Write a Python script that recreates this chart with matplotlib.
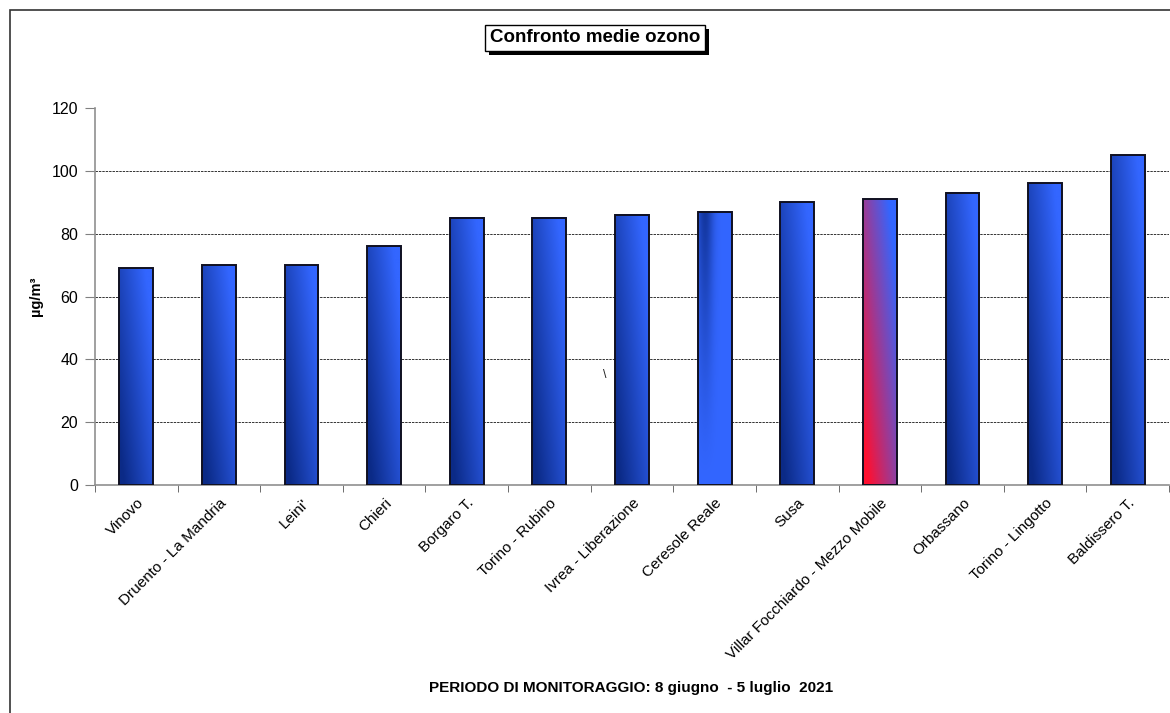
import numpy as np
import matplotlib.pyplot as plt
from matplotlib.patches import Rectangle
from matplotlib.colors import to_rgb

plt.rcParams['font.family'] = ['Liberation Sans', 'DejaVu Sans']

# Stazioni e medie di ozono (µg/m³)
stazioni = ['Vinovo', 'Druento - La Mandria', "Leini'", 'Chieri', 'Borgaro T.',
            'Torino - Rubino', 'Ivrea - Liberazione', 'Ceresole Reale', 'Susa',
            'Villar Focchiardo - Mezzo Mobile', 'Orbassano', 'Torino - Lingotto',
            'Baldissero T.']
medie = [69, 70, 70, 76, 85, 85, 86, 87, 90, 91, 93, 96, 105]
# tipo di riempimento: 'std' standard, 'cer' variante chiara, 'mm' mezzo mobile
riempimento = ['std'] * 7 + ['cer', 'std', 'mm', 'std', 'std', 'std']

blu_scuro = np.array(to_rgb('#0b2a86'))
blu_chiaro = np.array(to_rgb('#3366ff'))
rosso = np.array(to_rgb('#ff1030'))


def gradiente(tipo, n=120, m=30):
    u = np.linspace(0, 1, m)[None, :]
    v = np.linspace(0, 1, n)[:, None]
    if tipo == 'mm':
        t = np.clip(0.65 * u + 0.6 * v - 0.1, 0, 1)[..., None]
        return rosso * (1 - t) + blu_chiaro * t
    if tipo == 'cer':
        d = 0.8 * np.exp(-((u - 0.2) / 0.25) ** 2) * v ** 1.3
        d = d[..., None]
        return blu_chiaro * (1 - d) + blu_scuro * d
    t = np.clip(0.7 * u + 0.55 * v - 0.1, 0, 1)[..., None]
    return blu_scuro * (1 - t) + blu_chiaro * t


fig = plt.figure(figsize=(11.7, 7.13), dpi=100)
ax = fig.add_axes([0.0812, 0.3198, 0.918, 0.5287])

larg = 0.41
x = np.arange(len(stazioni))
for xi, val, tipo in zip(x, medie, riempimento):
    img = gradiente(tipo)
    ax.imshow(img, extent=(xi - larg / 2, xi + larg / 2, 0, val), origin='lower',
              aspect='auto', zorder=2, interpolation='bilinear')
    ax.add_patch(Rectangle((xi - larg / 2, 0), larg, val, fill=False,
                           edgecolor='#101020', linewidth=1.4, zorder=3))

ax.set_xlim(-0.5, len(stazioni) - 0.5)
ax.set_ylim(0, 120)
ax.set_yticks(range(0, 121, 20))
for g in range(20, 101, 20):
    ax.axhline(g, color='#333333', linestyle=(0, (2.5, 1)), linewidth=0.7, zorder=1)

ax.set_xticks(x)
ax.set_xticklabels(stazioni, rotation=45, ha='right', rotation_mode='anchor', fontsize=11)
ax.set_xticks(np.arange(len(stazioni) + 1) - 0.5, minor=True)
ax.tick_params(axis='x', which='major', length=0, pad=8)
ax.tick_params(axis='x', which='minor', length=5, color='#555555', direction='out')
ax.tick_params(axis='y', length=7, color='#808080', labelsize=11.5, pad=5)

for s in ['top', 'right']:
    ax.spines[s].set_visible(False)
for s in ['left', 'bottom']:
    ax.spines[s].set_color('#909090')
    ax.spines[s].set_linewidth(1.2)

ax.set_ylabel('µg/m³', fontsize=10.5, fontweight='bold', labelpad=6)

# segno isolato presente nel grafico
ax.text(5.67, 35, '\\', fontsize=9, ha='center', va='center', color='#222222')

# titolo in riquadro con ombra
titolo = fig.text(0.5085, 0.947, 'Confronto medie ozono', fontsize=13.5, fontweight='bold',
                  ha='center', va='center', zorder=5,
                  bbox=dict(boxstyle='square,pad=0.25', facecolor='white',
                            edgecolor='black', linewidth=1))
fig.canvas.draw()
bb = titolo.get_bbox_patch().get_window_extent()
W, H = fig.bbox.width, fig.bbox.height
fig.add_artist(Rectangle(((bb.x0 + 4) / W, (bb.y0 - 4) / H), bb.width / W, bb.height / H,
                         transform=fig.transFigure, facecolor='black',
                         edgecolor='none', zorder=4))

fig.text(0.539, 0.035, 'PERIODO DI MONITORAGGIO: 8 giugno  - 5 luglio  2021',
         fontsize=11, fontweight='bold', ha='center', va='center')

# cornice esterna
fig.add_artist(Rectangle((10 / 1170, -0.01), 1.1, 1 - 10 / 713 + 0.01,
                         transform=fig.transFigure, fill=False,
                         edgecolor='#333333', linewidth=1.2))

fig.savefig('out.png', dpi=100)
